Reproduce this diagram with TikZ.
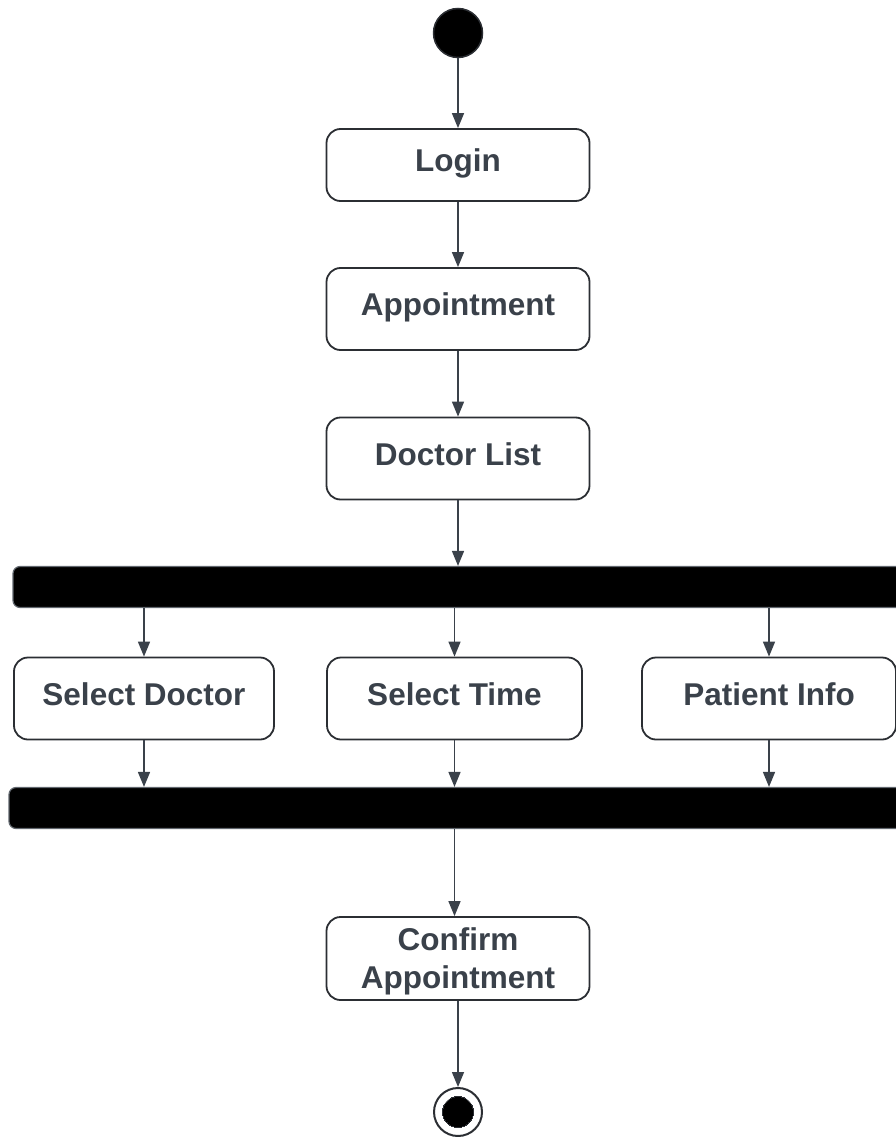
\documentclass[tikz,border=0pt]{standalone}
\usepackage{fontspec}
\setmainfont{Liberation Sans}
\usetikzlibrary{arrows.meta}
\definecolor{ink}{HTML}{3A414A}
\definecolor{edge}{HTML}{2B2E33}
\begin{document}
\begin{tikzpicture}[x=1pt, y=-1pt,
  activity/.style = {shape=rectangle, rounded corners=14pt,
    draw=edge, line width=1.8pt, align=center, text=ink,
    font=\fontsize{31.5}{38}\selectfont\bfseries,
    text height=23pt, text depth=10pt,
    minimum width=263pt, minimum height=82pt, inner sep=0pt},
  bar/.style = {shape=rectangle, rounded corners=7pt, draw=ink!80,
    line width=1.2pt, fill=black, minimum height=41pt, inner sep=0pt},
  dot/.style = {shape=circle, fill=black, draw=edge, line width=1.5pt, inner sep=0pt},
  flow/.style = {draw=ink, line width=1.5pt, -{Triangle[width=12pt,length=15pt]}}]
  \useasboundingbox (0,0) rectangle (896,1137);
  \node[dot, minimum size=49pt] (start) at (458,33) {};
  \node[activity, minimum height=72pt] (login) at (458,165) {Login};
  \node[activity] (appt) at (458,309) {Appointment};
  \node[activity] (doclist) at (458,458.5) {Doctor List};
  \node[bar, minimum width=899pt] (fork) at (462.5,587) {};
  \node[activity, minimum width=260pt] (seldoc) at (144,698.5) {Select Doctor};
  \node[activity, minimum width=255pt] (seltime) at (454.5,698.5) {Select Time};
  \node[activity, minimum width=254pt] (patinfo) at (769,698.5) {Patient Info};
  \node[bar, minimum width=903pt] (join) at (460.5,808) {};
  \node[activity, minimum height=83pt, text height=, text depth=0pt] (confirm) at (458,958.5) {Confirm\\Appointment};
  \node[dot, fill=white, line width=2pt, minimum size=48pt] (stop) at (458,1112) {};
  \node[dot, line width=0pt, minimum size=31pt] (stopin) at (stop) {};
  % main flow
  \draw[flow] (start) -- (login);
  \draw[flow] (login) -- (appt);
  \draw[flow] (appt) -- (doclist);
  \draw[flow] (doclist) -- (doclist |- fork.north);
  % fork and join
  \foreach \act in {seldoc, seltime, patinfo} {
    \draw[flow] (\act |- fork.south) -- (\act);
    \draw[flow] (\act) -- (\act |- join.north);
  }
  \draw[flow] (seltime |- join.south) -- (seltime |- confirm.north);
  \draw[flow] (confirm) -- (stop);
\end{tikzpicture}
\end{document}
